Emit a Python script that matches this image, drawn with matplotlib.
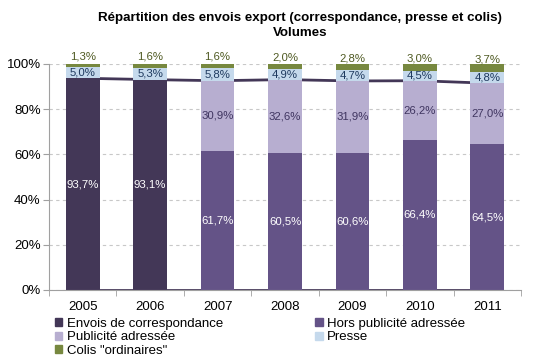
import matplotlib
matplotlib.use("Agg")
import matplotlib.pyplot as plt
from matplotlib.patches import Patch
import numpy as np

plt.rcParams['font.family'] = ['Liberation Sans', 'DejaVu Sans']

years = ['2005', '2006', '2007', '2008', '2009', '2010', '2011']
envois_corr = [93.7, 93.1, 0, 0, 0, 0, 0]
hors_pub = [0, 0, 61.7, 60.5, 60.6, 66.4, 64.5]
pub_adr = [0, 0, 30.9, 32.6, 31.9, 26.2, 27.0]
presse = [5.0, 5.3, 5.8, 4.9, 4.7, 4.5, 4.8]
colis = [1.3, 1.6, 1.6, 2.0, 2.8, 3.0, 3.7]
zero_line = [0, 0, 0, 0, 0, 0, 0]

c_env = '#433757'
c_hors = '#645387'
c_pub = '#b7aed0'
c_presse = '#c5d9ec'
c_colis = '#77883f'

fig = plt.figure(figsize=(5.46, 3.61), dpi=100)
ax = fig.add_axes([49/546, 1-290/361, (521-49)/546, (290-64)/361])

x = np.arange(len(years))
w = 0.5
env = np.array(envois_corr); hp = np.array(hors_pub); pa = np.array(pub_adr)
pr = np.array(presse); co = np.array(colis)

corr_total = env + hp + pa
ax.plot(x, corr_total, color=c_env, lw=2, zorder=1)
ax.plot(x, zero_line, color=c_env, lw=2, zorder=1)

ax.bar(x, env, w, color=c_env, zorder=2)
ax.bar(x, hp, w, bottom=env, color=c_hors, zorder=2)
ax.bar(x, pa, w, bottom=env+hp, color=c_pub, zorder=2)
ax.bar(x, pr, w, bottom=corr_total, color=c_presse, zorder=2)
ax.bar(x, co, w, bottom=corr_total+pr, color=c_colis, zorder=2)

def fmt(v):
    return f"{v:.1f}%".replace('.', ',')

fs = 8.2
for i in range(len(x)):
    if env[i] > 0:
        ax.text(x[i], env[i]/2, fmt(env[i]), ha='center', va='center', color='white', fontsize=fs, zorder=3)
    if hp[i] > 0:
        ax.text(x[i], env[i] + hp[i]/2, fmt(hp[i]), ha='center', va='center', color='white', fontsize=fs, zorder=3)
    if pa[i] > 0:
        ax.text(x[i], env[i] + hp[i] + pa[i]/2, fmt(pa[i]), ha='center', va='center', color='#3f3560', fontsize=fs, zorder=3)
    ax.text(x[i], corr_total[i] + pr[i]/2, fmt(pr[i]), ha='center', va='center', color='#1f3a5f', fontsize=fs, zorder=3)
    ax.annotate(fmt(co[i]), (x[i], corr_total[i] + pr[i] + co[i]/2), xytext=(0, 6.5), textcoords='offset points',
                ha='center', va='center', color='#4f5a22', fontsize=fs, zorder=3, annotation_clip=False)

ax.set_xlim(-0.5, len(x)-0.5)
ax.set_ylim(0, 100)
ax.set_yticks([0, 20, 40, 60, 80, 100])
ax.set_yticklabels(['0%', '20%', '40%', '60%', '80%', '100%'], fontsize=9.5)
ax.set_xticks(x)
ax.set_xticklabels(years, fontsize=9.5)
ax.tick_params(axis='x', length=0, pad=8)
ax.set_xticks(np.arange(-0.5, len(x)), minor=True)
ax.tick_params(axis='x', which='minor', length=4, color='#a0a0a0', direction='out')
ax.tick_params(axis='y', length=4, color='#a0a0a0', direction='out', pad=2)
ax.yaxis.grid(True, linestyle=(0, (3, 3)), color='#c8c8c8', lw=0.8, zorder=0)
ax.set_axisbelow(True)
for s in ['top', 'right']:
    ax.spines[s].set_visible(False)
ax.spines['left'].set_color('#a0a0a0')
ax.spines['bottom'].set_color('#a0a0a0')

fig.text(300/546, 1-18/361, 'Répartition des envois export (correspondance, presse et colis)',
         ha='center', va='center', fontsize=9.6, fontweight='bold')
fig.text(300/546, 1-33/361, 'Volumes', ha='center', va='center', fontsize=9.6, fontweight='bold')

handles = [Patch(color=c_env, label='Envois de correspondance'),
           Patch(color=c_pub, label='Publicité adressée'),
           Patch(color=c_colis, label='Colis "ordinaires"'),
           Patch(color=c_hors, label='Hors publicité adressée'),
           Patch(color=c_presse, label='Presse')]
fig.legend(handles=handles, ncol=2, loc='upper left', bbox_to_anchor=(55/546, 1-318/361),
           frameon=False, fontsize=9.5, handlelength=0.55, handleheight=0.55, handletextpad=0.35,
           columnspacing=7.0, labelspacing=0.1, borderpad=0, borderaxespad=0)

fig.savefig('out.png', dpi=100)
